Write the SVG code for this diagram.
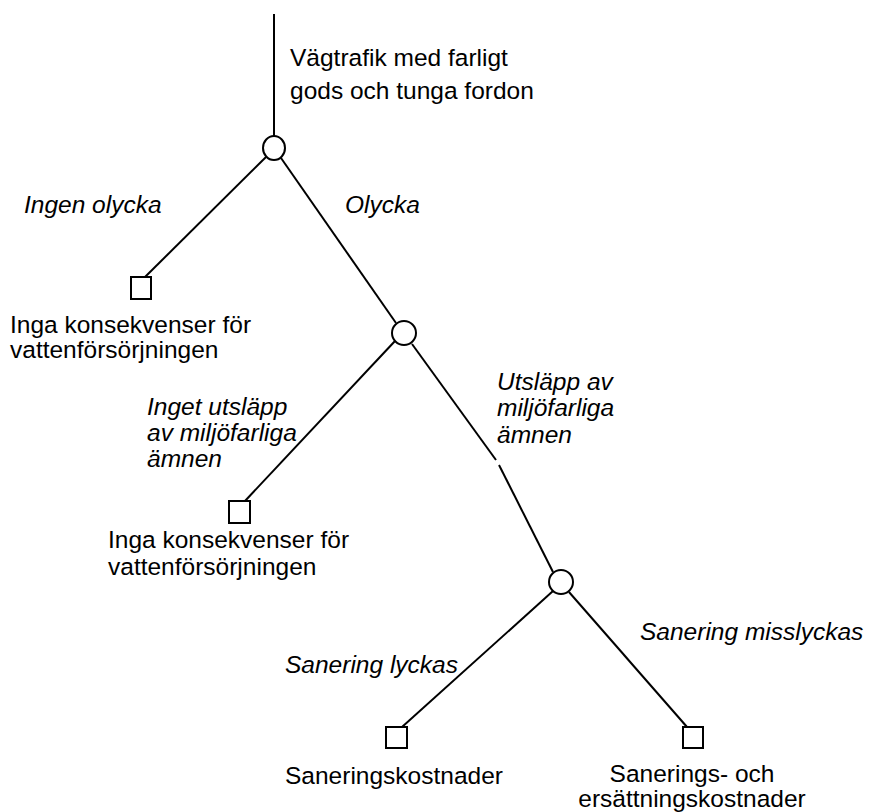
<svg xmlns="http://www.w3.org/2000/svg" width="871" height="812" viewBox="0 0 871 812">
<style>
text{font-family:"Liberation Sans",Arial,sans-serif;font-size:24.5px;fill:#000}
.i{font-style:italic}
.ln{stroke:#000;stroke-width:2;fill:none}
.nd{stroke:#000;stroke-width:2;fill:#fff}
</style>
<rect width="871" height="812" fill="#fff"/>
<g id="connectors">
<line class="ln" x1="274" y1="14" x2="274" y2="136"/>
<line class="ln" x1="266" y1="157" x2="145" y2="277"/>
<line class="ln" x1="281" y1="158" x2="396" y2="323"/>
<line class="ln" x1="395" y1="341" x2="245" y2="501"/>
<line class="ln" x1="412" y1="344" x2="496" y2="460"/>
<line class="ln" x1="499" y1="465" x2="553" y2="572"/>
<line class="ln" x1="553" y1="591" x2="402" y2="727"/>
<line class="ln" x1="569" y1="592" x2="687" y2="727"/>
</g>
<g id="n1"><ellipse class="nd" cx="274" cy="148" rx="11" ry="12"/></g>
<g id="n2"><ellipse class="nd" cx="404" cy="333" rx="12" ry="12"/></g>
<g id="n3"><ellipse class="nd" cx="561" cy="582" rx="12" ry="12"/></g>
<g id="l1"><rect class="nd" x="131" y="277" width="20" height="22"/></g>
<g id="l2"><rect class="nd" x="229" y="501" width="21" height="22"/></g>
<g id="l3"><rect class="nd" x="386" y="727" width="21" height="21"/></g>
<g id="l4"><rect class="nd" x="683" y="727" width="20" height="21"/></g>
<g id="labels">
<text x="290" y="66">Vägtrafik med farligt</text>
<text x="290" y="99">gods och tunga fordon</text>
<text class="i" x="24" y="213">Ingen olycka</text>
<text class="i" x="345" y="213">Olycka</text>
<text x="10" y="333">Inga konsekvenser för</text>
<text x="10" y="358">vattenförsörjningen</text>
<text class="i" x="147" y="415">Inget utsläpp</text>
<text class="i" x="147" y="441">av miljöfarliga</text>
<text class="i" x="147" y="467">ämnen</text>
<text class="i" x="497" y="390">Utsläpp av</text>
<text class="i" x="497" y="416">miljöfarliga</text>
<text class="i" x="497" y="443">ämnen</text>
<text x="108" y="548">Inga konsekvenser för</text>
<text x="108" y="575">vattenförsörjningen</text>
<text class="i" x="285" y="673">Sanering lyckas</text>
<text class="i" x="640" y="640">Sanering misslyckas</text>
<text x="285" y="784">Saneringskostnader</text>
<text x="692" y="782" text-anchor="middle">Sanerings- och</text>
<text x="692" y="807" text-anchor="middle">ersättningskostnader</text>
</g>
</svg>
